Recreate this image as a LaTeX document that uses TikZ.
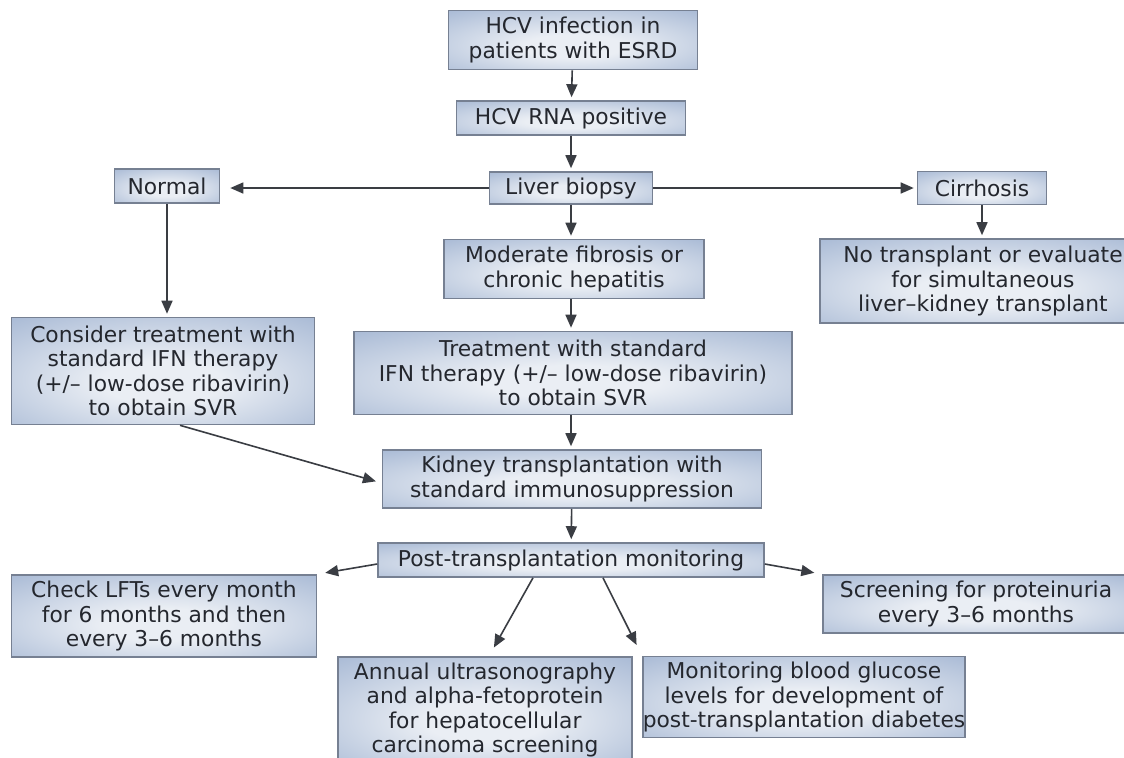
\documentclass[tikz,border=0pt]{standalone}
\usepackage{fontspec}
\setmainfont{DejaVu Sans}
\usetikzlibrary{arrows.meta}
\definecolor{c1}{RGB}{118,128,146}
\definecolor{c2}{RGB}{160,179,209}
\definecolor{c3}{RGB}{234,238,244}
\definecolor{c4}{RGB}{36,39,46}
\pgfdeclareradialshading{boxshade}{\pgfpoint{0bp}{-6bp}}{color(0bp)=(c3); color(10bp)=(c3); color(42bp)=(c2); color(80bp)=(c2)}

\begin{document}
\begin{tikzpicture}[x=0.5pt,y=-0.5pt,
    box/.style={draw=c1,line width=0.8pt,shading=boxshade,inner sep=0pt,
        align=center,text=c4,font=\fontsize{10.9}{12.2}\selectfont},
    arr/.style={draw=c4!90,line width=0.8pt,-{Triangle[length=6.5pt,width=5.5pt]},shorten >=1.5pt}]
    \clip (0,0) rectangle (1124,757);
    \fill[white] (0,0) rectangle (1124,757);
    % top of the tree
    \node[box,minimum width=124.5pt,minimum height=29.5pt] (hcv) at (573,40) {HCV infection in\\patients with ESRD};
    \node[box,minimum width=114.5pt,minimum height=17pt] (rna) at (571,118) {HCV RNA positive};
    \node[box,minimum width=81.5pt,minimum height=16pt] (biop) at (571,188) {Liver biopsy};
    % the three results of the biopsy
    \node[box,minimum width=52.5pt,minimum height=17pt] (norm) at (167,186) {Normal};
    \node[box,minimum width=64.5pt,minimum height=16.5pt] (cirr) at (982,188) {Cirrhosis};
    \node[box,minimum width=130pt,minimum height=29.5pt] (mod) at (574,269) {Moderate fibrosis or\\chronic hepatitis};
    \node[box,minimum width=163pt,minimum height=42pt] (notx) at (983,281) {No transplant or evaluate\\for simultaneous\\liver–kidney transplant};
    % treatment
    \node[box,minimum width=151.5pt,minimum height=53.5pt] (cons) at (163,371) {Consider treatment with\\standard IFN therapy\\(+/– low-dose ribavirin)\\to obtain SVR};
    \node[box,minimum width=219pt,minimum height=41.5pt] (treat) at (573,373) {Treatment with standard\\IFN therapy (+/– low-dose ribavirin)\\to obtain SVR};
    \node[box,minimum width=189.5pt,minimum height=29pt] (kid) at (572,479) {Kidney transplantation with\\standard immunosuppression};
    \node[box,minimum width=193pt,minimum height=17pt] (post) at (571,560) {Post-transplantation monitoring};
    % monitoring after the transplant
    \node[box,minimum width=152.5pt,minimum height=41pt] (chk) at (164,616) {Check LFTs every month\\for 6 months and then\\every 3–6 months};
    \node[box,minimum width=153pt,minimum height=29pt] (scr) at (976,604) {Screening for proteinuria\\every 3–6 months};
    \node[box,minimum width=147pt,minimum height=53pt] (ann) at (485,710) {Annual ultrasonography\\and alpha-fetoprotein\\for hepatocellular\\carcinoma screening};
    \node[box,minimum width=161pt,minimum height=40.5pt] (mon) at (804,697) {Monitoring blood glucose\\levels for development of\\post-transplantation diabetes};

    % connectors
    \draw[arr] (hcv) -- (rna);
    \draw[arr] (rna) -- (biop);
    \draw[arr,shorten >=5pt] (biop.west) -- (biop.west -| norm.east);
    \draw[arr] (biop.east) -- (biop.east -| cirr.west);
    \draw[arr] (biop.south) -- (biop.south |- mod.north);
    \draw[arr] (norm.south) -- (norm.south |- cons.north);
    \draw[arr] (cirr.south) -- (cirr.south |- notx.north);
    \draw[arr] (biop.south |- mod.south) -- (biop.south |- treat.north);
    \draw[arr] (biop.south |- treat.south) -- (biop.south |- kid.north);
    \draw[arr,shorten >=3pt] ([xshift=8.5pt]cons.south) -- ([yshift=-2pt]kid.west);
    \draw[arr] (kid) -- (post);
    \draw[arr,shorten >=4pt] ([yshift=-2pt]post.west) -- (chk.north east);
    \draw[arr,shorten >=4pt] ([yshift=-2pt]post.east) -- (scr.north west);
    \draw[arr,shorten >=5pt] ([xshift=-19pt]post.south) -- ([xshift=2pt]ann.north);
    \draw[arr,shorten >=6pt] ([xshift=16pt]post.south) -- (mon.north west);
\end{tikzpicture}
\end{document}
